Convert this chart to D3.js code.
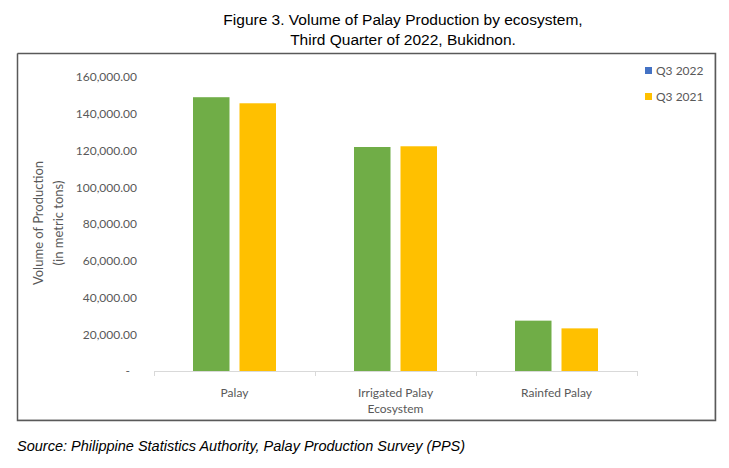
<!DOCTYPE html>
<html>
<head>
<meta charset="utf-8">
<script src="https://cdn.jsdelivr.net/npm/d3@7"></script>
<style>
  html, body { margin: 0; padding: 0; background: #fff; }
  svg { display: block; }
</style>
</head>
<body>
<svg id="chart" width="729" height="468"></svg>
<script>
const categories = [["Palay"], ["Irrigated Palay", "Ecosystem"], ["Rainfed Palay"]];
const seriesNames = ["Q3 2022", "Q3 2021"];
const q3_2022 = [149000, 121900, 27400];
const q3_2021 = [145700, 122300, 23200];
const yTicks = [0, 20000, 40000, 60000, 80000, 100000, 120000, 140000, 160000];
const titleLines = ["Figure 3. Volume of Palay Production by ecosystem,", "Third Quarter of 2022, Bukidnon."];
const yTitle = ["Volume of Production", "(in metric tons)"];
const sourceText = "Source: Philippine Statistics Authority, Palay Production Survey (PPS)";

const barColors = ["#70AD47", "#FFC000"];
const legendColors = ["#4472C4", "#FFC000"];

const svg = d3.select("#chart");
const catKeys = categories.map(c => c.join(" "));
const data = catKeys.map((k, i) => ({ key: k, values: [q3_2022[i], q3_2021[i]] }));

// Title
svg.append("g").selectAll("text").data(titleLines).join("text")
  .attr("x", 403).attr("y", (d, i) => 25 + i * 20)
  .attr("text-anchor", "middle")
  .style("font-family", "'Liberation Sans', Arial, sans-serif")
  .style("font-size", "15.5px").attr("fill", "#000").text(d => d);

// Chart frame
svg.append("rect").attr("x", 17.5).attr("y", 53.5).attr("width", 697).attr("height", 366)
  .attr("fill", "#fff").attr("stroke", "#D9D9D9").attr("stroke-width", 1);
svg.append("path").attr("d", "M17.5,53.5 V420.5 H715.5 V53.5 H17.5")
  .attr("fill", "none").attr("stroke", "#595959").attr("stroke-width", 1.5);

const x0 = d3.scaleBand().domain(catKeys).range([154, 637]).padding(0);
const x1 = d3.scaleBand().domain(seriesNames).range([39, 122]).paddingInner(0.215).paddingOuter(0);
const y = d3.scaleLinear().domain([0, 160000]).range([371, 77]);

// Y axis labels
const fmt = d => d === 0 ? "-" : d3.format(",.2f")(d);
const yAxis = d3.axisLeft(y).tickValues(yTicks).tickFormat(fmt).tickSize(0).tickPadding(0);
const yg = svg.append("g").attr("transform", "translate(137,0)").call(yAxis);
yg.select(".domain").remove();
yg.selectAll("text")
  .style("font-family", "Lato, 'Open Sans', sans-serif").style("font-size", "12px")
  .attr("fill", "#595959")
  .attr("dx", d => d === 0 ? "-7px" : null);

// Bars
const groups = svg.append("g").selectAll("g").data(data).join("g")
  .attr("transform", d => `translate(${x0(d.key)},0)`);
groups.selectAll("rect").data(d => d.values.map((v, i) => ({ s: seriesNames[i], v, i })))
  .join("rect")
  .attr("x", d => x1(d.s)).attr("width", x1.bandwidth())
  .attr("y", d => y(d.v)).attr("height", d => y(0) - y(d.v))
  .attr("fill", d => barColors[d.i]);

// X axis
const xAxis = d3.axisBottom(x0).tickSize(0).tickFormat("");
const xg = svg.append("g").attr("transform", `translate(0,${y(0)})`).call(xAxis);
xg.select(".domain").attr("stroke", "#D9D9D9").attr("d", `M154,0.5H637`);
xg.selectAll(".bnd").data(catKeys.map(k => x0(k)).concat([x0.range()[1]])).join("line")
  .attr("class", "bnd").attr("x1", d => d + 0.5).attr("x2", d => d + 0.5)
  .attr("y1", 0).attr("y2", 5).attr("stroke", "#D9D9D9");

// Category labels
const lab = svg.append("g").selectAll("text").data(categories).join("text")
  .attr("text-anchor", "middle")
  .attr("x", (d, i) => x0(catKeys[i]) + x0.bandwidth() / 2)
  .attr("y", 397)
  .style("font-family", "Lato, 'Open Sans', sans-serif").style("font-size", "12px")
  .attr("fill", "#595959");
lab.selectAll("tspan").data(d => d).join("tspan")
  .attr("x", function() { return d3.select(this.parentNode).attr("x"); })
  .attr("dy", (d, i) => i === 0 ? 0 : 16).text(d => d);

// Y title
const yt = svg.append("text").attr("transform", "translate(0,223) rotate(-90)")
  .attr("text-anchor", "middle")
  .style("font-family", "Lato, 'Open Sans', sans-serif").style("font-size", "13px")
  .attr("fill", "#595959");
yt.selectAll("tspan").data(yTitle).join("tspan")
  .attr("x", 0).attr("y", (d, i) => 43 + i * 20).text(d => d);

// Legend
const lg = svg.append("g").selectAll("g").data(seriesNames).join("g")
  .attr("transform", (d, i) => `translate(645,${71 + i * 26})`);
lg.append("rect").attr("x", 0).attr("y", -4).attr("width", 7).attr("height", 7)
  .attr("fill", (d, i) => legendColors[i]);
lg.append("text").attr("x", 11).attr("y", 4)
  .style("font-family", "Lato, 'Open Sans', sans-serif").style("font-size", "12px")
  .attr("fill", "#595959").text(d => d);

// Source
svg.append("text").attr("x", 17).attr("y", 451)
  .style("font-family", "'Liberation Sans', Arial, sans-serif").style("font-size", "14.5px")
  .style("font-style", "italic").attr("fill", "#000").text(sourceText);
</script>
</body>
</html>
